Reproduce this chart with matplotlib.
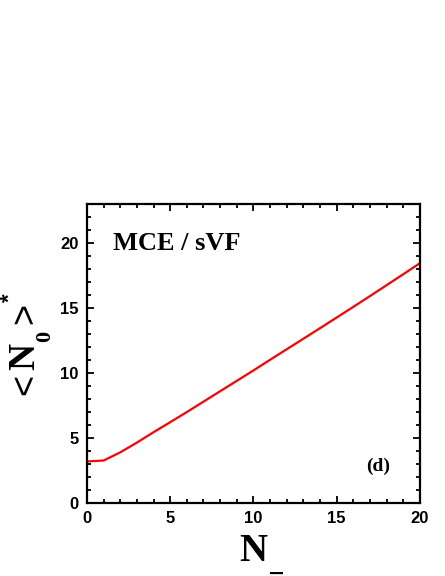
import numpy as np
import matplotlib
matplotlib.use("Agg")
import matplotlib.pyplot as plt
from matplotlib.ticker import MultipleLocator

# данные
n_minus = [0, 1, 2, 3, 4, 5, 6, 7, 8, 9, 10, 11, 12, 13, 14, 15, 16, 17, 18, 19, 20]
n0_star = [3.2, 3.27, 3.9, 4.65, 5.45, 6.22, 7.0, 7.8, 8.6, 9.4, 10.2, 11.02,
           11.83, 12.64, 13.45, 14.27, 15.09, 15.92, 16.76, 17.6, 18.45]

xticks = [0, 5, 10, 15, 20]
yticks = [0, 5, 10, 15, 20]

fig = plt.figure(figsize=(4.45, 5.76), dpi=100)
ax = fig.add_axes([0.1955, 0.1267, 0.748, 0.519])

ax.plot(n_minus, n0_star, color='#ff0000', lw=1.6)

ax.set_xlim(0, 20)
ax.set_ylim(0, 23)
ax.set_xticks(xticks)
ax.set_yticks(yticks)
ax.xaxis.set_minor_locator(MultipleLocator(1))
ax.yaxis.set_minor_locator(MultipleLocator(1))
ax.tick_params(which='both', direction='in', top=True, right=True, width=1.3)
ax.tick_params(which='major', length=5, pad=6)
ax.tick_params(which='minor', length=3)
for lab in ax.get_xticklabels() + ax.get_yticklabels():
    lab.set_fontfamily('Liberation Sans')
    lab.set_fontweight('bold')
    lab.set_fontsize(12)
for s in ax.spines.values():
    s.set_linewidth(1.6)

serif = dict(fontfamily='Liberation Serif', fontweight='bold')

# подпись оси x: N с нижней чертой
fig.text(0.569, 0.0417, 'N', ha='center', va='center', fontsize=28, **serif)
fig.text(0.619, 0.004, '\u2581', ha='center', va='bottom', fontsize=12,
         fontfamily='DejaVu Sans')

# подпись оси y: <N0>*, собрана по кускам и повернута
fig.text(0.058, 0.332, '<', rotation=90, ha='center', va='center',
         fontfamily='Liberation Sans', fontsize=26)
fig.text(0.056, 0.381, 'N', rotation=90, ha='center', va='center', fontsize=27, **serif)
fig.text(0.101, 0.4167, '0', rotation=90, ha='center', va='center', fontsize=16, **serif)
fig.text(0.058, 0.4566, '>', rotation=90, ha='center', va='center',
         fontfamily='Liberation Sans', fontsize=26)
fig.text(0.0, 0.4835, '*', rotation=90, ha='left', va='center',
         fontfamily='Liberation Sans', fontweight='bold', fontsize=16)

ax.text(0.078, 0.846, 'MCE / sVF', transform=ax.transAxes, fontsize=19, **serif)
ax.text(0.84, 0.107, '(d)', transform=ax.transAxes, fontsize=14, **serif)

plt.savefig('out.png', dpi=100)
